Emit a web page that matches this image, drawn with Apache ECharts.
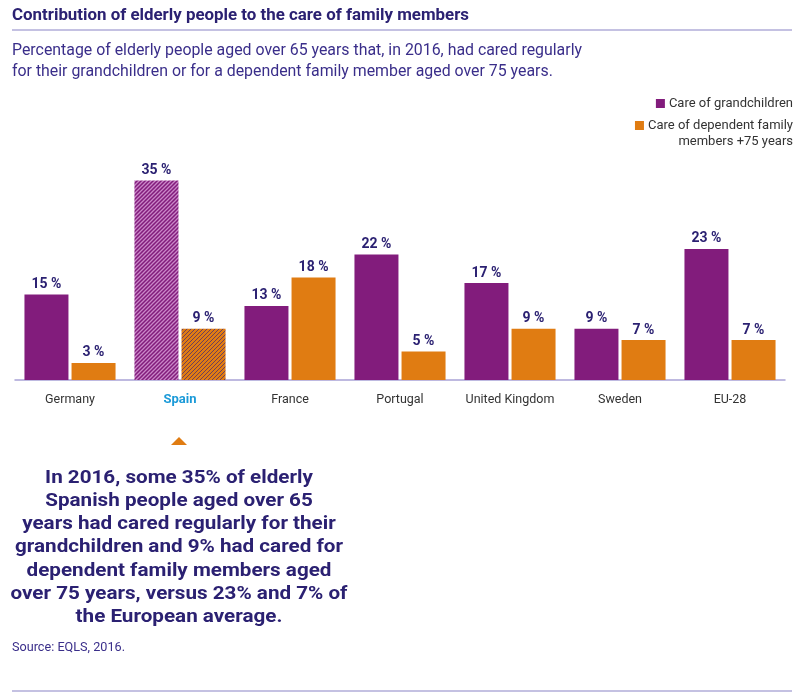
<!DOCTYPE html>
<html>
<head>
<meta charset="utf-8">
<script src="https://cdn.jsdelivr.net/npm/echarts@6/dist/echarts.min.js"></script>
<style>
html,body{margin:0;padding:0;background:#fff;}
#main{width:800px;height:693px;}
</style>
</head>
<body>
<div id="main"></div>
<script>
const categories = ['Germany', 'Spain', 'France', 'Portugal', 'United Kingdom', 'Sweden', 'EU-28'];
const seriesNames = ['Care of grandchildren', 'Care of dependent family members +75 years'];
const grandchildren = [15, 35, 13, 22, 17, 9, 23];
const dependents = [3, 9, 18, 5, 9, 7, 7];
const highlightCategory = 'Spain';

const titleText = 'Contribution of elderly people to the care of family members';
const subtitleLines = [
  'Percentage of elderly people aged over 65 years that, in 2016, had cared regularly',
  'for their grandchildren or for a dependent family member aged over 75 years.'
];
const noteLines = [
  'In 2016, some 35% of elderly',
  'Spanish people aged over 65',
  'years had cared regularly for their',
  'grandchildren and 9% had cared for',
  'dependent family members aged',
  'over 75 years, versus 23% and 7% of',
  'the European average.'
];
const sourceText = 'Source: EQLS, 2016.';

const PURPLE = '#821c7c';
const ORANGE = '#e07c12';
const NAVY = '#2b2172';
const INK = '#3a2e8a';
const LAVENDER = '#b1acd8';

function fitScale(text, font, target) {
  const ctx = document.createElement('canvas').getContext('2d');
  ctx.font = font;
  const w = ctx.measureText(text).width;
  return w > 0 ? target / w : 1;
}

// diagonal "/" hatch tile
function hatch(base, stripe, lw) {
  const n = 4;
  const c = document.createElement('canvas');
  c.width = n; c.height = n;
  const ctx = c.getContext('2d');
  ctx.fillStyle = base;
  ctx.fillRect(0, 0, n, n);
  ctx.strokeStyle = stripe;
  ctx.lineWidth = lw;
  ctx.beginPath();
  ctx.moveTo(-1, n + 1); ctx.lineTo(n + 1, -1);
  ctx.moveTo(-1, 1); ctx.lineTo(1, -1);
  ctx.moveTo(n - 1, n + 1); ctx.lineTo(n + 1, n - 1);
  ctx.stroke();
  return {image: c, repeat: 'repeat'};
}

const chart = echarts.init(document.getElementById('main'), null, {renderer: 'canvas'});

function buildData(values, fill) {
  return values.map((v, i) => {
    if (categories[i] === highlightCategory) {
      return {value: v, itemStyle: {color: fill}};
    }
    return v;
  });
}

const labelStyle = {
  show: true,
  position: 'top',
  distance: 3,
  formatter: '{c} %',
  fontFamily: 'Roboto',
  fontWeight: 'bold',
  fontSize: 14,
  color: NAVY
};

const titleFont = 'bold 16px Roboto';
const subFont = '16px Roboto';
const noteFont = 'bold 18px Roboto';
const srcFont = '12px Roboto';
const titleScale = fitScale(titleText, titleFont, 457);
const subScale = fitScale(subtitleLines[0], subFont, 570);
const noteScale = fitScale(noteLines[3], noteFont, 328);
const srcScale = fitScale(sourceText, srcFont, 113);

const noteTop = 478;
const noteLH = 23.3;

function graphics(spainX) {
  const g = [
    {type: 'text', x: 12, y: 16, scaleX: titleScale,
      style: {text: titleText, font: titleFont, fill: NAVY, textVerticalAlign: 'middle'}},
    {type: 'line', shape: {x1: 12, y1: 30, x2: 792, y2: 30},
      style: {stroke: LAVENDER, lineWidth: 1.5}},
    {type: 'text', x: 12, y: 51, scaleX: subScale,
      style: {text: subtitleLines[0], font: subFont, fill: INK, textVerticalAlign: 'middle'}},
    {type: 'text', x: 12, y: 72, scaleX: subScale,
      style: {text: subtitleLines[1], font: subFont, fill: INK, textVerticalAlign: 'middle'}},
    {type: 'text', x: 793, y: 142,
      style: {text: 'members +75 years', font: '13px Roboto', fill: '#333', textAlign: 'right', textVerticalAlign: 'middle'}},
    {type: 'polygon', shape: {points: [[spainX - 8, 445], [spainX + 8, 445], [spainX, 437]]},
      style: {fill: ORANGE}},
    {type: 'text', x: 12, y: 648, scaleX: srcScale,
      style: {text: sourceText, font: srcFont, fill: INK, textVerticalAlign: 'middle'}},
    {type: 'line', shape: {x1: 12, y1: 691, x2: 792, y2: 691},
      style: {stroke: LAVENDER, lineWidth: 1.5}}
  ];
  noteLines.forEach((t, i) => {
    g.push({type: 'text', x: spainX, y: noteTop + i * noteLH, scaleX: noteScale,
      style: {text: t, font: noteFont, fill: NAVY, textAlign: 'center', textVerticalAlign: 'middle'}});
  });
  return g;
}

const option = {
  backgroundColor: '#fff',
  animation: false,
  legend: [
    {
      data: [seriesNames[0]],
      right: 7, top: 97, padding: 0,
      itemWidth: 9, itemHeight: 9, itemGap: 0,
      icon: 'rect',
      textStyle: {fontFamily: 'Roboto', fontSize: 13, color: '#333', padding: [0, 0, 0, -1]}
    },
    {
      data: [seriesNames[1]],
      right: 7, top: 119, padding: 0,
      itemWidth: 9, itemHeight: 9, itemGap: 0,
      icon: 'rect',
      formatter: () => 'Care of dependent family',
      textStyle: {fontFamily: 'Roboto', fontSize: 13, color: '#333', padding: [0, 0, 0, -1]}
    }
  ],
  grid: {left: 15, right: 15, top: 152, bottom: 313, containLabel: false},
  xAxis: {
    type: 'category',
    data: categories,
    axisLine: {lineStyle: {color: '#a9a3d6', width: 1.5}},
    axisTick: {show: false},
    axisLabel: {
      interval: 0,
      margin: 13,
      fontFamily: 'Roboto',
      fontSize: 12.5,
      color: '#333',
      formatter: v => v === highlightCategory ? '{hl|' + v + '}' : v,
      rich: {hl: {fontFamily: 'Roboto', fontSize: 13, fontWeight: 'bold', color: '#1b9ad8'}}
    }
  },
  yAxis: {
    type: 'value', min: 0, max: 40,
    show: false,
    splitLine: {show: false}
  },
  series: [
    {
      name: seriesNames[0], type: 'bar',
      barWidth: 44, barGap: '7%',
      itemStyle: {color: PURPLE},
      label: labelStyle,
      data: buildData(grandchildren, hatch(PURPLE, 'rgba(225,170,225,0.75)', 1.3))
    },
    {
      name: seriesNames[1], type: 'bar',
      barWidth: 44, barGap: '7%',
      itemStyle: {color: ORANGE},
      label: labelStyle,
      data: buildData(dependents, hatch(ORANGE, 'rgba(60,35,120,0.7)', 1.0))
    }
  ]
};

chart.setOption(option);
const spainX = chart.convertToPixel({xAxisIndex: 0}, highlightCategory) - 1;
chart.setOption({graphic: graphics(spainX)});
</script>
</body>
</html>
